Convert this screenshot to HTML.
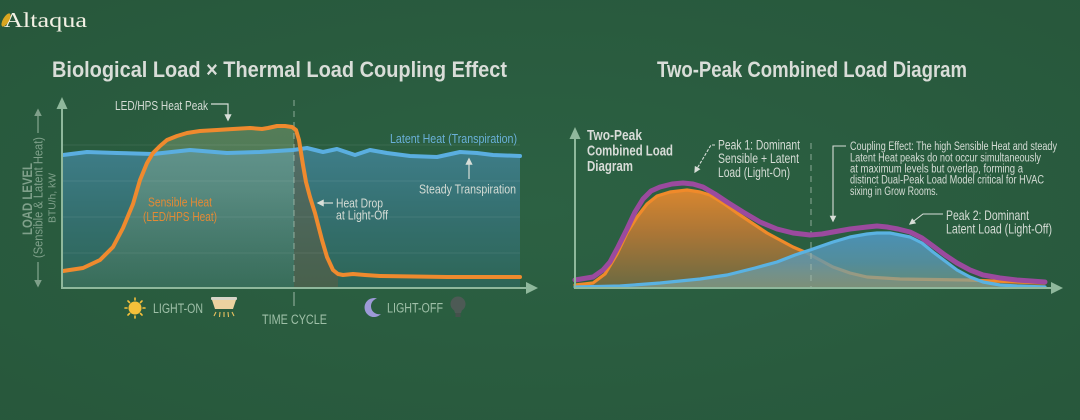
<!DOCTYPE html>
<html>
<head>
<meta charset="utf-8">
<style>
  html,body{margin:0;padding:0;background:#2a5c3f;}
  svg{display:block;}
  text{font-family:"Liberation Sans Narrow","Liberation Sans",sans-serif;}
</style>
</head>
<body>
<svg width="1080" height="420" viewBox="0 0 1080 420" xmlns="http://www.w3.org/2000/svg">
  <defs>
    <radialGradient id="bg" cx="50%" cy="50%" r="75%">
      <stop offset="0" stop-color="#2c6143"/>
      <stop offset="1" stop-color="#27573b"/>
    </radialGradient>
    <linearGradient id="latFill" x1="0" y1="150" x2="0" y2="288" gradientUnits="userSpaceOnUse">
      <stop offset="0" stop-color="#3e7d88"/>
      <stop offset="0.5" stop-color="#346f6e"/>
      <stop offset="1" stop-color="#2d6656"/>
    </linearGradient>
    <linearGradient id="senFill" x1="0" y1="126" x2="0" y2="288" gradientUnits="userSpaceOnUse">
      <stop offset="0" stop-color="#b8c890" stop-opacity="0.30"/>
      <stop offset="0.4" stop-color="#a8c090" stop-opacity="0.28"/>
      <stop offset="1" stop-color="#88a070" stop-opacity="0.12"/>
    </linearGradient>
    <linearGradient id="o2Fill" x1="0" y1="188" x2="0" y2="288" gradientUnits="userSpaceOnUse">
      <stop offset="0" stop-color="#da872f"/>
      <stop offset="0.45" stop-color="#ab7636"/>
      <stop offset="1" stop-color="#6a6a42"/>
    </linearGradient>
    <linearGradient id="b2Fill" x1="0" y1="232" x2="0" y2="288" gradientUnits="userSpaceOnUse">
      <stop offset="0" stop-color="#4b93bc" stop-opacity="0.95"/>
      <stop offset="0.55" stop-color="#5e9ab4" stop-opacity="0.78"/>
      <stop offset="1" stop-color="#88a89c" stop-opacity="0.6"/>
    </linearGradient>
    <marker id="ah" viewBox="0 0 10 10" refX="8" refY="5" markerWidth="6" markerHeight="6" orient="auto">
      <path d="M0,0 L10,5 L0,10 z" fill="#d8ded8"/>
    </marker>
    <marker id="ahg" viewBox="0 0 10 10" refX="8" refY="5" markerWidth="6" markerHeight="6" orient="auto">
      <path d="M0,0 L10,5 L0,10 z" fill="#7fa08a"/>
    </marker>
  </defs>

  <rect x="0" y="0" width="1080" height="420" fill="url(#bg)"/>

  <!-- Logo -->
  <text x="4" y="27" style="font-family:'Liberation Serif',serif" font-size="21" fill="#f3f0e4" textLength="83" lengthAdjust="spacingAndGlyphs">Altaqua</text>
  <ellipse cx="6" cy="20" rx="3" ry="7.5" transform="rotate(30 6 20)" fill="#d9a520"/>

  <!-- Titles -->
  <text x="52" y="77" font-size="22" font-weight="bold" fill="#d9ddd8" textLength="455" lengthAdjust="spacingAndGlyphs">Biological Load × Thermal Load Coupling Effect</text>
  <text x="657" y="77" font-size="22" font-weight="bold" fill="#d9ddd8" textLength="310" lengthAdjust="spacingAndGlyphs">Two-Peak Combined Load Diagram</text>

  <!-- ============ LEFT CHART ============ -->
  <polygon fill="url(#latFill)" points="63,155 87,152 117,153 153,154 190,150 227,153 260,152 293,150 307,148 323,152 337,149 355,155 370,150 387,153 410,156 437,157 460,152 477,153 493,155 520,156 520,288 63,288"/>
  <polygon fill="url(#senFill)" points="63,271 83,268 100,260 113,247 123,228 133,204 140,180 147,163 153,153 160,146 167,140 177,136 187,133 200,131 217,130 233,129 250,128 262,129 268,128 277,126 285,126 292,127 294,128 294,288 63,288"/>
  <polygon fill="#6a5a40" fill-opacity="0.45" points="294,128 296,130 299,140 303,165 306,182 310,197 315,213 322,240 327,257 333,270 338,274 338,288 294,288"/>

  <g stroke="#ffffff" stroke-opacity="0.08" stroke-width="1">
    <line x1="63" y1="145" x2="520" y2="145"/>
    <line x1="63" y1="181" x2="520" y2="181"/>
    <line x1="63" y1="217" x2="520" y2="217"/>
    <line x1="63" y1="253" x2="520" y2="253"/>
  </g>

  <line x1="294" y1="100" x2="294" y2="288" stroke="#a8c0b0" stroke-opacity="0.6" stroke-width="1.3" stroke-dasharray="6 5"/>
  <line x1="294" y1="292" x2="294" y2="306" stroke="#a8c0b0" stroke-opacity="0.7" stroke-width="1.3"/>

  <polyline fill="none" stroke="#5aaee0" stroke-width="4" stroke-linejoin="round" stroke-linecap="round" points="63,155 87,152 117,153 153,154 190,150 227,153 260,152 293,150 307,148 323,152 337,149 355,155 370,150 387,153 410,156 437,157 460,152 477,153 493,155 520,156"/>
  <polyline fill="none" stroke="#ef8a2e" stroke-width="4" stroke-linejoin="round" stroke-linecap="round" points="63,271 83,268 100,260 113,247 123,228 133,204 140,180 147,163 153,153 160,146 167,140 177,136 187,133 200,131 217,130 233,129 250,128 262,129 268,128 277,126 285,126 292,127 296,130 299,140 303,165 306,182 310,197 315,213 322,240 327,257 333,270 338,274 343,275 353,274 365,275 380,276 447,277 520,277"/>

  <line x1="62" y1="106" x2="62" y2="289" stroke="#8fb89c" stroke-width="2"/>
  <polygon points="62,97 56.5,109 67.5,109" fill="#8fb89c"/>
  <line x1="61" y1="288" x2="528" y2="288" stroke="#8fb89c" stroke-width="2"/>
  <polygon points="538,288 526,282 526,294" fill="#8fb89c"/>

  <text transform="translate(27,199) rotate(-90)" text-anchor="middle" dy="5" font-size="14" font-weight="bold" fill="#7fa08a" textLength="72" lengthAdjust="spacingAndGlyphs">LOAD LEVEL</text>
  <text transform="translate(38,197.5) rotate(-90)" text-anchor="middle" dy="4.5" font-size="12.5" fill="#7fa08a" textLength="121" lengthAdjust="spacingAndGlyphs">(Sensible &amp; Latent Heat)</text>
  <text transform="translate(52,198) rotate(-90)" text-anchor="middle" dy="3.5" font-size="10.5" fill="#7fa08a" textLength="50" lengthAdjust="spacingAndGlyphs">BTU/h, kW</text>
  <line x1="38" y1="133" x2="38" y2="110" stroke="#7fa08a" stroke-width="1.3" marker-end="url(#ahg)"/>
  <line x1="38" y1="262" x2="38" y2="286" stroke="#7fa08a" stroke-width="1.3" marker-end="url(#ahg)"/>

  <text x="115" y="110" font-size="12.5" fill="#d5dcd5" textLength="93" lengthAdjust="spacingAndGlyphs">LED/HPS Heat Peak</text>
  <polyline points="211,104 228,104 228,120" fill="none" stroke="#d8ded8" stroke-width="1.2" marker-end="url(#ah)"/>

  <text x="390" y="143" font-size="13" fill="#6ab0d8" textLength="127" lengthAdjust="spacingAndGlyphs">Latent Heat (Transpiration)</text>
  <text x="419" y="193.5" font-size="13" fill="#d5dcd5" textLength="97" lengthAdjust="spacingAndGlyphs">Steady Transpiration</text>
  <line x1="469" y1="179" x2="469" y2="159" stroke="#d8ded8" stroke-width="1.2" marker-end="url(#ah)"/>

  <text x="148" y="206.5" font-size="13" fill="#e38a35" textLength="64" lengthAdjust="spacingAndGlyphs">Sensible Heat</text>
  <text x="143" y="221" font-size="13" fill="#e38a35" textLength="74" lengthAdjust="spacingAndGlyphs">(LED/HPS Heat)</text>

  <text x="336" y="207.5" font-size="13" fill="#d5dcd5" textLength="47" lengthAdjust="spacingAndGlyphs">Heat Drop</text>
  <text x="336" y="219.5" font-size="13" fill="#d5dcd5" textLength="52" lengthAdjust="spacingAndGlyphs">at Light-Off</text>
  <line x1="333" y1="203" x2="318" y2="203" stroke="#d8ded8" stroke-width="1.2" marker-end="url(#ah)"/>

  <g fill="#f5c03a">
    <circle cx="135" cy="308" r="6.5"/>
    <g stroke="#f5c03a" stroke-width="1.6" stroke-linecap="round">
      <line x1="135" y1="298" x2="135" y2="300"/>
      <line x1="135" y1="316" x2="135" y2="318"/>
      <line x1="125" y1="308" x2="127" y2="308"/>
      <line x1="143" y1="308" x2="145" y2="308"/>
      <line x1="128" y1="301" x2="129.5" y2="302.5"/>
      <line x1="140.5" y1="313.5" x2="142" y2="315"/>
      <line x1="142" y1="301" x2="140.5" y2="302.5"/>
      <line x1="129.5" y1="313.5" x2="128" y2="315"/>
    </g>
  </g>
  <text x="153" y="313" font-size="13.5" fill="#9fc0a8" textLength="50" lengthAdjust="spacingAndGlyphs">LIGHT-ON</text>
  <rect x="211" y="297" width="26" height="3" rx="1" fill="#d8d4c8"/>
  <path d="M212,300 H236 L233,309 H215 Z" fill="#ecd2a0"/>
  <g stroke="#e8c060" stroke-width="1.1">
    <line x1="216" y1="312" x2="214" y2="316"/>
    <line x1="220" y1="312" x2="219.5" y2="317"/>
    <line x1="224" y1="312" x2="224" y2="317"/>
    <line x1="228" y1="312" x2="228.5" y2="317"/>
    <line x1="232" y1="312" x2="234" y2="316"/>
  </g>

  <text x="294.5" y="324" text-anchor="middle" font-size="13.5" fill="#9fc0a8" textLength="65" lengthAdjust="spacingAndGlyphs">TIME CYCLE</text>

  <path d="M377,298.5 A9.5,9.5 0 1 0 381,314 A8,8 0 0 1 377,298.5 Z" fill="#9d9ad8"/>
  <text x="387" y="312.5" font-size="13.5" fill="#9fc0a8" textLength="56" lengthAdjust="spacingAndGlyphs">LIGHT-OFF</text>
  <circle cx="458" cy="304" r="7.5" fill="#4d5a55"/>
  <path d="M453,307 L463,307 L461,313 L455,313 Z" fill="#4d5a55"/>
  <rect x="455.5" y="313" width="5" height="4" fill="#45514c"/>

  <!-- ============ RIGHT CHART ============ -->
  <polygon fill="url(#o2Fill)" points="575,285 593,283 605,274 617,254 627,233 637,217 647,204 657,196 670,192 687,190 700,192 710,195 723,203 737,213 752,223 767,233 780,240 793,247 807,253 820,260 833,267 850,273 867,277 900,279 967,280 1045,283 1045,288 575,288"/>
  <polyline fill="none" stroke="#f08a2a" stroke-width="3.2" stroke-linejoin="round" stroke-linecap="round" points="575,285 593,283 605,274 617,254 627,233 637,217 647,204 657,196 670,192 687,190 700,192 710,195 723,203 737,213 752,223 767,233 780,240 793,247 807,253 820,260 833,267 850,273 867,277 900,279 967,280 1045,283"/>
  <polygon fill="url(#b2Fill)" points="575,287 620,286 660,283 700,279 727,275 755,268 777,262 795,255 810,250 833,242 850,237 867,234 877,233 890,233 910,237 922,243 933,252 945,261 957,270 970,277 983,282 1000,285 1017,286 1045,287 1045,288 575,288"/>
  <line x1="811" y1="143" x2="811" y2="288" stroke="#a8c0b0" stroke-opacity="0.6" stroke-width="1.3" stroke-dasharray="6 5"/>
  <polyline fill="none" stroke="#5ab2e2" stroke-width="3.2" stroke-linejoin="round" stroke-linecap="round" points="575,287 620,286 660,283 700,279 727,275 755,268 777,262 795,255 810,250 833,242 850,237 867,234 877,233 890,233 910,237 922,243 933,252 945,261 957,270 970,277 983,282 1000,285 1017,286 1045,287"/>
  <polyline fill="none" stroke="#9b4a9e" stroke-width="5" stroke-linejoin="round" stroke-linecap="round" points="575,280 593,277 603,270 610,262 618,247 627,229 635,212 643,199 651,191 660,187 672,184 683,183 693,184 703,187 715,194 727,202 743,212 760,222 777,229 793,233 810,235 822,234 833,232 850,229 867,227 877,226 887,227 898,229 910,232 922,238 933,246 945,255 957,263 970,270 983,275 1000,278 1017,280 1045,282"/>

  <line x1="575" y1="136" x2="575" y2="289" stroke="#8fb89c" stroke-width="2"/>
  <polygon points="575,127 569.5,139 580.5,139" fill="#8fb89c"/>
  <line x1="574" y1="288" x2="1053" y2="288" stroke="#8fb89c" stroke-width="2"/>
  <polygon points="1063,288 1051,282 1051,294" fill="#8fb89c"/>

  <text x="587" y="140" font-size="15" font-weight="bold" fill="#d8dcd8" textLength="55" lengthAdjust="spacingAndGlyphs">Two-Peak</text>
  <text x="587" y="155.5" font-size="15" font-weight="bold" fill="#d8dcd8" textLength="86" lengthAdjust="spacingAndGlyphs">Combined Load</text>
  <text x="587" y="171" font-size="15" font-weight="bold" fill="#d8dcd8" textLength="46" lengthAdjust="spacingAndGlyphs">Diagram</text>

  <text x="718" y="149.5" font-size="13.5" fill="#d5dcd5" textLength="82" lengthAdjust="spacingAndGlyphs">Peak 1: Dominant</text>
  <text x="718" y="163" font-size="13.5" fill="#d5dcd5" textLength="81" lengthAdjust="spacingAndGlyphs">Sensible + Latent</text>
  <text x="718" y="177" font-size="13.5" fill="#d5dcd5" textLength="72" lengthAdjust="spacingAndGlyphs">Load (Light-On)</text>
  <polyline points="715,145 711,145 695,172" fill="none" stroke="#d8ded8" stroke-width="1.1" stroke-dasharray="3 1.5" marker-end="url(#ah)"/>

  <g font-size="11.5" fill="#d5dcd5">
    <text x="850" y="150" textLength="207" lengthAdjust="spacingAndGlyphs">Coupling Effect: The high Sensible Heat and steady</text>
    <text x="850" y="161.5" textLength="191" lengthAdjust="spacingAndGlyphs">Latent Heat peaks do not occur simultaneously</text>
    <text x="850" y="172.5" textLength="173" lengthAdjust="spacingAndGlyphs">at maximum levels but overlap, forming a</text>
    <text x="850" y="183.5" textLength="194" lengthAdjust="spacingAndGlyphs">distinct Dual-Peak Load Model critical for HVAC</text>
    <text x="850" y="195" textLength="88" lengthAdjust="spacingAndGlyphs">sixing in Grow Rooms.</text>
  </g>
  <polyline points="846,146 833,146 833,221" fill="none" stroke="#d8ded8" stroke-width="1.1" marker-end="url(#ah)"/>

  <text x="946" y="220" font-size="14" fill="#d5dcd5" textLength="83" lengthAdjust="spacingAndGlyphs">Peak 2: Dominant</text>
  <text x="946" y="233.5" font-size="14" fill="#d5dcd5" textLength="106" lengthAdjust="spacingAndGlyphs">Latent Load (Light-Off)</text>
  <polyline points="943,214 923,214 910,224" fill="none" stroke="#d8ded8" stroke-width="1.1" marker-end="url(#ah)"/>
</svg>
</body>
</html>
